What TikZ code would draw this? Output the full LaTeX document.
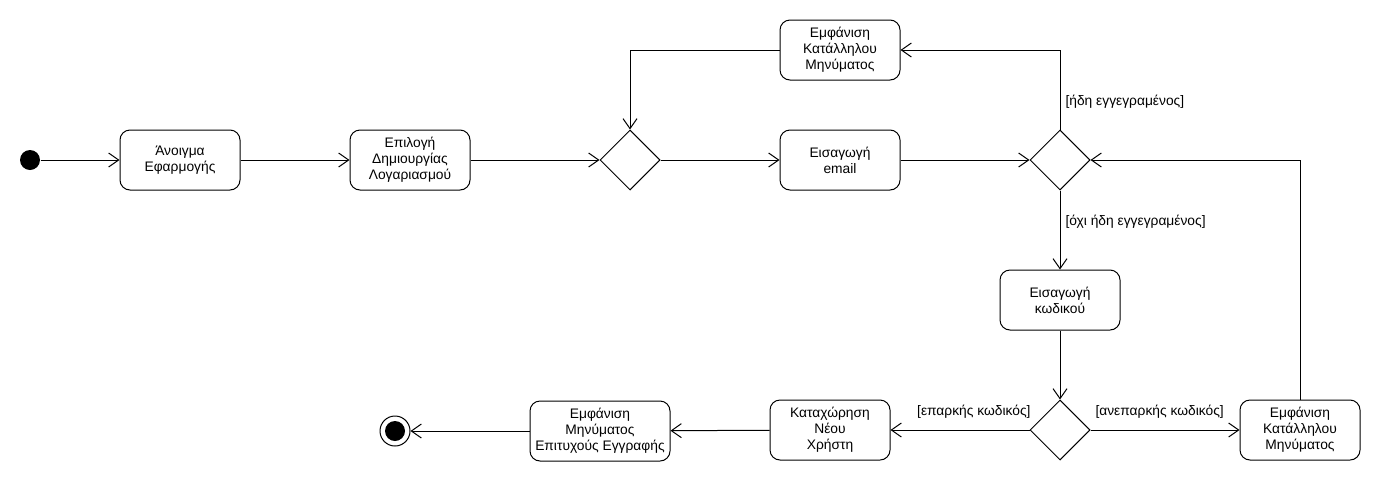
\documentclass[tikz,border=0pt]{standalone}
\usepackage{fontspec}
\setmainfont{Liberation Sans}
\usetikzlibrary{arrows.meta,shapes.geometric}
\begin{document}
\begin{tikzpicture}[x=1pt,y=-1pt,
  line width=1pt,
  every node/.style={font=\fontsize{13.8pt}{16pt}\selectfont},
  action/.style={draw, rectangle, rounded corners=10pt, minimum width=120pt,
    minimum height=60pt, align=center, inner sep=1pt},
  decision/.style={draw, diamond, minimum width=60pt, minimum height=60pt,
    aspect=1, inner sep=0pt},
  flow/.style={draw, -{Straight Barb[length=10pt,width=14pt,line width=1pt]}},
  guard/.style={inner sep=0pt}]
\useasboundingbox (0,0) rectangle (1380,480);

% initial and final states
\node[circle, fill=black, minimum size=20pt, inner sep=0pt] (start) at (30,160) {};
\node[circle, draw, minimum size=30pt, inner sep=0pt] (stop) at (395,431) {};
\fill (stop.center) circle (10pt);

% actions
\node[action] (open) at (180,160) {Άνοιγμα\\Εφαρμογής};
\node[action] (choose) at (410,160) {Επιλογή\\Δημιουργίας\\Λογαριασμού};
\node[action] (msgtop) at (840,50) {Εμφάνιση\\Κατάλληλου\\Μηνύματος};
\node[action] (email) at (840,160) {Εισαγωγή\\email};
\node[action] (pass) at (1060,300) {Εισαγωγή\\κωδικού};
\node[action] (register) at (830,430) {Καταχώρηση\\Νέου\\Χρήστη};
\node[action, minimum width=140pt] (success) at (600,431) {Εμφάνιση\\Μηνύματος\\Επιτυχούς Εγγραφής};
\node[action] (msgbot) at (1300,430) {Εμφάνιση\\Κατάλληλου\\Μηνύματος};

% decisions
\node[decision] (merge) at (630,160) {};
\node[decision] (check) at (1060,160) {};
\node[decision] (strength) at (1060,430) {};

% guards
\node[guard, anchor=west] (gyes) at (1065,102) {[ήδη εγγεγραμένος]};
\node[guard, anchor=west] (gno) at (1065,222) {[όχι ήδη εγγεγραμένος]};
\node[guard, anchor=east] (gok) at (1031,412) {[επαρκής κωδικός]};
\node[guard, anchor=west] (gweak) at (1095,412) {[ανεπαρκής κωδικός]};

% control flow
\draw[flow] (start) -- (open);
\draw[flow] (open) -- (choose);
\draw[flow] (choose) -- (merge.west);
\draw[flow] (merge.east) -- (email);
\draw[flow] (email) -- (check.west);
\draw[flow] (check.north) |- (msgtop.east);
\draw[flow] (msgtop.west) -| (merge.north);
\draw[flow] (check.south) -- (pass);
\draw[flow] (pass) -- (strength.north);
\draw[flow] (strength.west) -- (register);
\draw[flow] (strength.east) -- (msgbot);
\draw[flow] (msgbot.north) |- (check.east);
\draw[flow] (register) -- (success);
\draw[flow] (success) -- (stop);
\end{tikzpicture}
\end{document}
